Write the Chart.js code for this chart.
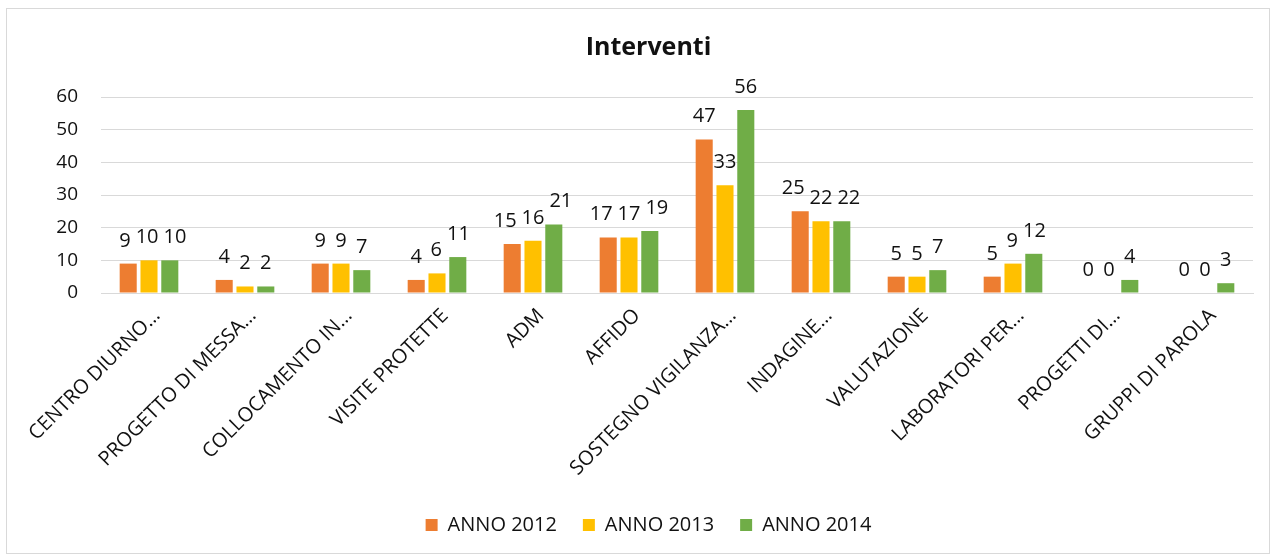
<!DOCTYPE html>
<html>
<head>
<meta charset="utf-8">
<script src="https://cdn.jsdelivr.net/npm/chart.js@4/dist/chart.umd.min.js"></script>
<style>
  html, body { margin: 0; padding: 0; background: #fff; }
  #wrap { position: relative; width: 1277px; height: 560px; }
</style>
</head>
<body>
<div id="wrap"><canvas id="myChart" width="1277" height="560"></canvas></div>
<script>
document.addEventListener('DOMContentLoaded', function () {
  // Categories and yearly counts
  const categories = [
    'CENTRO DIURNO…', 'PROGETTO DI MESSA…', 'COLLOCAMENTO IN…', 'VISITE PROTETTE',
    'ADM', 'AFFIDO', 'SOSTEGNO VIGILANZA…', 'INDAGINE…', 'VALUTAZIONE',
    'LABORATORI PER…', 'PROGETTI DI…', 'GRUPPI DI PAROLA'
  ];
  const anno2012 = [9, 4, 9, 4, 15, 17, 47, 25, 5, 5, 0, 0];
  const anno2013 = [10, 2, 9, 6, 16, 17, 33, 22, 5, 9, 0, 0];
  const anno2014 = [10, 2, 7, 11, 21, 19, 56, 22, 7, 12, 4, 3];
  const yTicks = [0, 10, 20, 30, 40, 50, 60];

  const fontFamily = "'Open Sans', sans-serif";
  const textColor = '#111';
  const gridColor = '#d9d9d9';
  const labelSize = 20;

  // White background with a thin frame around the whole chart
  const framePlugin = {
    id: 'framePlugin',
    beforeDraw(chart) {
      const ctx = chart.ctx;
      ctx.save();
      ctx.fillStyle = '#fff';
      ctx.fillRect(0, 0, chart.width, chart.height);
      ctx.strokeStyle = gridColor;
      ctx.lineWidth = 1;
      ctx.strokeRect(6.5, 8.5, 1263, 545);
      ctx.restore();
    }
  };

  // Value printed above every bar; labels that collide inside a group get pushed apart
  const valueLabels = {
    id: 'valueLabels',
    afterDatasetsDraw(chart) {
      const ctx = chart.ctx;
      ctx.save();
      ctx.font = labelSize + 'px ' + fontFamily;
      ctx.fillStyle = textColor;
      ctx.textAlign = 'center';
      ctx.textBaseline = 'alphabetic';
      const gap = 5;
      const metas = chart.data.datasets.map((ds, i) => chart.getDatasetMeta(i));
      chart.data.labels.forEach((_, j) => {
        const items = chart.data.datasets.map((ds, i) => {
          const bar = metas[i].data[j];
          const text = String(ds.data[j]);
          return { text, x: bar.x, y: bar.y - 17, w: ctx.measureText(text).width };
        });
        for (let pass = 0; pass < 6; pass++) {
          for (let k = 1; k < items.length; k++) {
            const a = items[k - 1], b = items[k];
            if (Math.abs(a.y - b.y) >= labelSize * 0.9) continue;
            const overlap = (a.x + a.w / 2 + gap) - (b.x - b.w / 2);
            if (overlap > 0) {
              a.x -= overlap / 2;
              b.x += overlap / 2;
            }
          }
        }
        items.forEach(it => ctx.fillText(it.text, it.x, it.y));
      });
      ctx.restore();
    }
  };

  const makeSet = (label, data, color) => ({
    label,
    data,
    backgroundColor: color,
    borderWidth: 0,
    categoryPercentage: 0.65,
    barPercentage: 0.82
  });

  const ctx = document.getElementById('myChart').getContext('2d');
  new Chart(ctx, {
    type: 'bar',
    data: {
      labels: categories,
      datasets: [
        makeSet('ANNO 2012', anno2012, '#ED7D31'),
        makeSet('ANNO 2013', anno2013, '#FFC000'),
        makeSet('ANNO 2014', anno2014, '#70AD47')
      ]
    },
    options: {
      responsive: false,
      animation: false,
      layout: { padding: { top: 8, left: 26, right: 6, bottom: 15 } },
      plugins: {
        title: {
          display: true,
          text: 'Interventi',
          color: textColor,
          font: { family: fontFamily, size: 25, weight: 'bold' },
          padding: { top: 25, bottom: 34 }
        },
        legend: {
          position: 'bottom',
          labels: {
            boxWidth: 12,
            boxHeight: 12,
            padding: 26,
            color: textColor,
            font: { family: fontFamily, size: 20 }
          }
        },
        tooltip: { enabled: false }
      },
      scales: {
        x: {
          grid: { display: false, drawTicks: false },
          border: { color: gridColor, width: 1 },
          ticks: {
            autoSkip: false,
            minRotation: 45,
            maxRotation: 45,
            padding: 11,
            labelOffset: 8,
            color: textColor,
            font: { family: fontFamily, size: 20 }
          },
          afterFit(scale) { scale.height = 196; }
        },
        y: {
          min: 0,
          max: yTicks[yTicks.length - 1],
          afterBuildTicks(scale) { scale.ticks = yTicks.map(v => ({ value: v })); },
          grid: { color: gridColor, lineWidth: 1, drawTicks: false },
          border: { display: false },
          ticks: {
            padding: 23,
            color: textColor,
            font: { family: fontFamily, size: 19 }
          },
          afterFit(scale) { scale.width = 75; }
        },
        // empty strip on the right so the plot stops short of the frame
        yRight: {
          position: 'right',
          min: 0,
          max: yTicks[yTicks.length - 1],
          grid: { display: false, drawTicks: false },
          border: { display: false },
          ticks: { display: false },
          afterFit(scale) { scale.width = 18; }
        }
      }
    },
    plugins: [framePlugin, valueLabels]
  });
});
</script>
</body>
</html>
